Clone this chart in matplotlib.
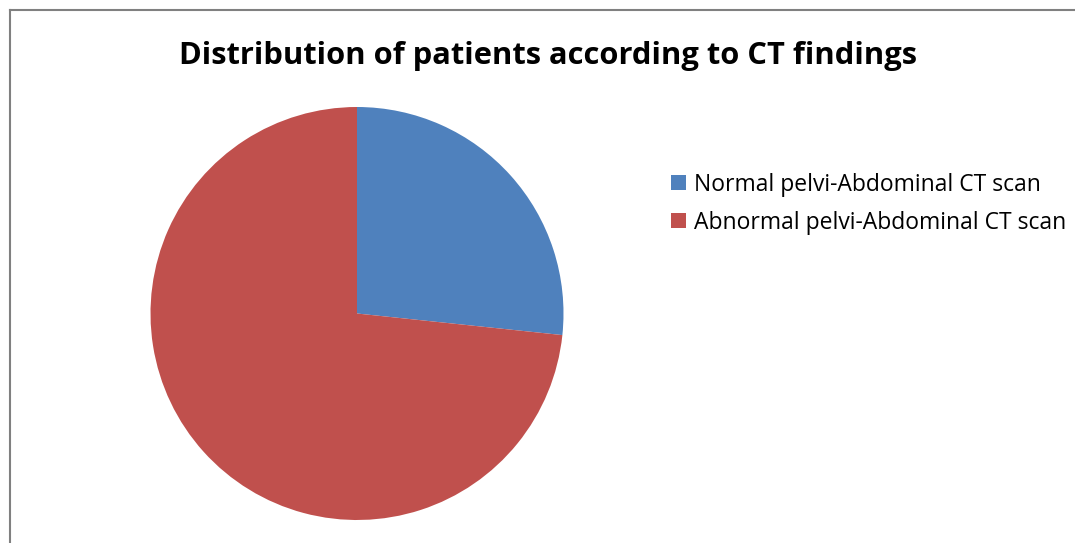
import matplotlib.pyplot as plt
from matplotlib.patches import Patch
from matplotlib.lines import Line2D

labels = ["Normal pelvi-Abdominal CT scan", "Abnormal pelvi-Abdominal CT scan"]
counts = [8, 22]
colors = ["#4F81BD", "#C0504D"]

W, H = 1075, 543
fig = plt.figure(figsize=(W / 100, H / 100), dpi=100)

# pie area in pixels: centre (357, 313.5), radius 206.5
cx, cy, r = 357, 313.5, 206.5
ax = fig.add_axes([(cx - r) / W, (H - cy - r) / H, 2 * r / W, 2 * r / H])
ax.pie(counts, colors=colors, startangle=90, counterclock=False,
       radius=1, wedgeprops=dict(linewidth=0))
ax.set_xlim(-1, 1)
ax.set_ylim(-1, 1)
ax.set_aspect("equal")
ax.axis("off")

fig.text(548 / W, 1 - 56 / H, "Distribution of patients according to CT findings",
         ha="center", va="center", fontsize=22.2, fontweight="bold",
         family="Open Sans")

handles = [Patch(facecolor=c, edgecolor="none") for c in colors]
fig.legend(handles, labels, loc="upper left",
           bbox_to_anchor=(650 / W, 1 - 152 / H), frameon=False,
           prop={"family": "Open Sans", "size": 16.5},
           handlelength=0.65, handleheight=0.65, handletextpad=0.35,
           labelspacing=0.62)

# chart border (only top and left visible)
fig.add_artist(Line2D([10 / W, 10 / W], [0, 1 - 10 / H], transform=fig.transFigure,
                      color="#808080", linewidth=1.5))
fig.add_artist(Line2D([10 / W, 1], [1 - 10 / H, 1 - 10 / H], transform=fig.transFigure,
                      color="#808080", linewidth=1.5))

fig.savefig("out.png", dpi=100)
